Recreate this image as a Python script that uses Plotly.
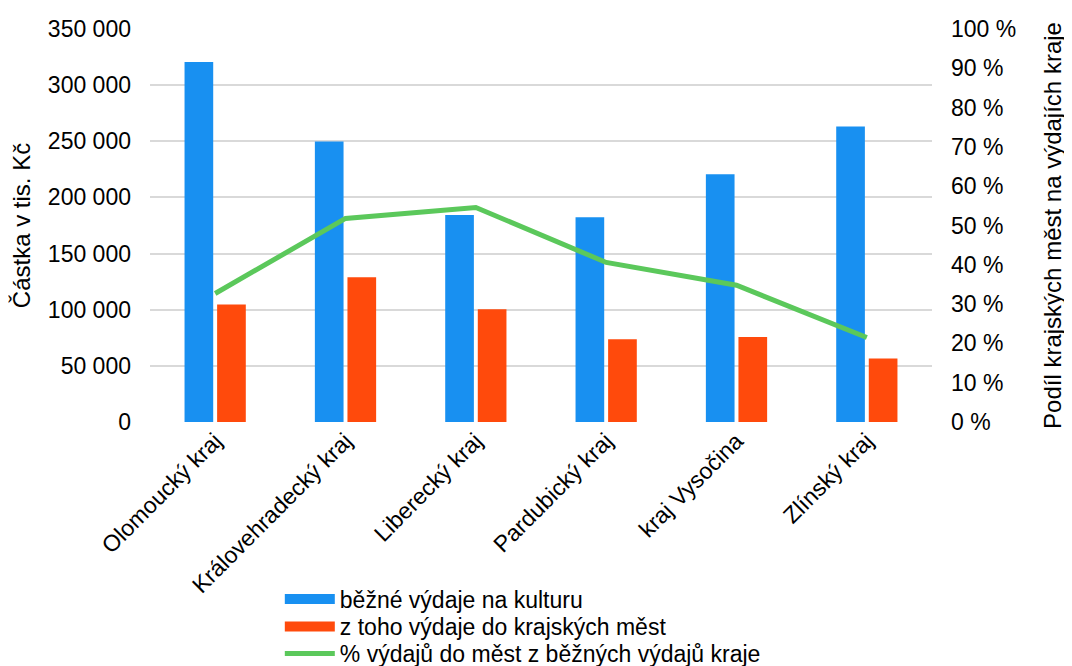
import plotly.graph_objects as go

categories = ["Olomoucký kraj", "Královehradecký kraj", "Liberecký kraj",
              "Pardubický kraj", "kraj Vysočina", "Zlínský kraj"]
bezne_vydaje = [320500, 249700, 184300, 182300, 220600, 263100]
vydaje_mesta = [104700, 129000, 100500, 73700, 75800, 56500]
podil_pct = [32.7, 51.8, 54.6, 40.6, 34.8, 21.5]

name_blue = "běžné výdaje na kulturu"
name_red = "z toho výdaje do krajských měst"
name_green = "% výdajů do měst z běžných výdajů kraje"

BLUE = "#1890F1"
RED = "#FF4A0C"
GREEN = "#5BC85B"
FONT = "Liberation Sans, Arial, sans-serif"

W, H = 1064, 658

fig = go.Figure()
fig.add_trace(go.Bar(x=categories, y=bezne_vydaje, name=name_blue,
                     marker=dict(color=BLUE, line=dict(width=0)), showlegend=False))
fig.add_trace(go.Bar(x=categories, y=vydaje_mesta, name=name_red,
                     marker=dict(color=RED, line=dict(width=0)), showlegend=False))
fig.add_trace(go.Scatter(x=categories, y=podil_pct, name=name_green, yaxis="y2",
                         mode="lines", line=dict(color=GREEN, width=5), showlegend=False))

# legend entries (wide rectangle symbols like the reference), each in its own legend
legend_rows = [(name_blue, BLUE, 12, "legend"), (name_red, RED, 12, "legend2"),
               (name_green, GREEN, 5, "legend3")]
for nm, col, w, lg in legend_rows:
    fig.add_trace(go.Scatter(x=[None], y=[None], name=nm, mode="lines",
                             line=dict(color=col, width=w), showlegend=True, legend=lg))

row_centers = [591, 618.5, 645.5]
legend_common = dict(orientation="v", xref="paper", x=0.166, xanchor="left",
                     yref="container", yanchor="middle", font=dict(size=23),
                     itemwidth=50, bgcolor="rgba(0,0,0,0)")

fig.update_layout(
    width=W, height=H,
    margin=dict(l=142, r=140, t=21, b=244, autoexpand=False),
    paper_bgcolor="white", plot_bgcolor="white",
    font=dict(family=FONT, size=23, color="#000000"),
    separators=", ",
    barmode="group", bargap=0.5, bargroupgap=0.12,
    xaxis=dict(tickangle=-45, showgrid=False, showline=False, ticks="",
               tickfont=dict(size=23), automargin=False),
    yaxis=dict(range=[0, 350000], dtick=50000, tickformat=",d",
               gridcolor="#D9D9D9", gridwidth=1.5, zeroline=False,
               showline=False, ticks="", ticklabelstandoff=18, automargin=False,
               tickfont=dict(size=23),
               title=dict(text="Částka v tis. Kč", font=dict(size=24), standoff=10)),
    yaxis2=dict(range=[0, 100], dtick=10, ticksuffix=" %", overlaying="y", side="right",
                showgrid=False, zeroline=False, showline=False, ticks="",
                ticklabelstandoff=18, automargin=False, tickfont=dict(size=23),
                title=dict(text="Podíl krajských měst na výdajích kraje",
                           font=dict(size=24), standoff=28)),
    legend=dict(legend_common, y=1 - row_centers[0] / H),
    legend2=dict(legend_common, y=1 - row_centers[1] / H),
    legend3=dict(legend_common, y=1 - row_centers[2] / H),
)

fig.write_html("out.html")
